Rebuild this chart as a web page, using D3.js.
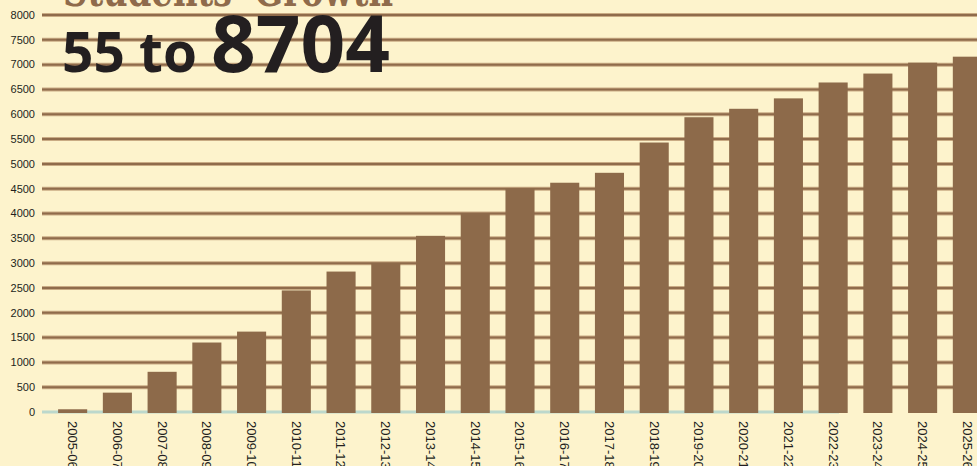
<!DOCTYPE html>
<html>
<head>
<meta charset="utf-8">
<script src="https://cdn.jsdelivr.net/npm/d3@7"></script>
<style>
  body { margin: 0; background: #fdf3cc; }
  svg { display: block; }
  .tick-label { font-family: "Liberation Sans", "DejaVu Sans", sans-serif; font-size: 11px; fill: #231f20; }
</style>
</head>
<body>
<svg width="977" height="466"></svg>
<script>
const svg = d3.select('svg');
const width = +svg.attr('width');
const height = +svg.attr('height');

const years = ['2005-06', '2006-07', '2007-08', '2008-09', '2009-10', '2010-11', '2011-12',
  '2012-13', '2013-14', '2014-15', '2015-16', '2016-17', '2017-18', '2018-19', '2019-20',
  '2020-21', '2021-22', '2022-23', '2023-24', '2024-25', '2025-26'];
const students = [55, 390, 810, 1400, 1620, 2450, 2830, 2990, 3550, 4000, 4500, 4620,
  4820, 5430, 5940, 6110, 6320, 6640, 6820, 7040, 7160];
const yTicks = d3.range(0, 8001, 500);

const title = "Students' Growth";
const fromTo = ['55 to', '8704'];

const left = 42;
const yScale = d3.scaleLinear()
  .domain([0, 8000])
  .range([412, 15]);

const xScale = d3.scaleBand()
  .domain(years)
  .range([left, 998])
  .paddingInner(0.35)
  .paddingOuter(0.36);

svg.append('rect')
  .attr('width', width)
  .attr('height', height)
  .attr('fill', '#fdf3cc');

// grid lines
const grid = svg.append('g');
grid.selectAll('line.halo')
  .data(yTicks.filter(d => d > 0))
  .join('line')
  .attr('class', 'halo')
  .attr('x1', left).attr('x2', width)
  .attr('y1', d => yScale(d)).attr('y2', d => yScale(d))
  .attr('stroke', '#c9ab84')
  .attr('stroke-width', 4);
grid.selectAll('line.core')
  .data(yTicks.filter(d => d > 0))
  .join('line')
  .attr('class', 'core')
  .attr('x1', left).attr('x2', width)
  .attr('y1', d => yScale(d)).attr('y2', d => yScale(d))
  .attr('stroke', '#8f6b4b')
  .attr('stroke-width', 2);

// baseline
svg.append('line')
  .attr('x1', left).attr('x2', 839)
  .attr('y1', yScale(0)).attr('y2', yScale(0))
  .attr('stroke', '#bcd8cc')
  .attr('stroke-width', 3);

// title texts (the top one is cut off by the edge, as in the original)
svg.append('text')
  .attr('x', 63).attr('y', 6)
  .attr('font-family', '"DejaVu Serif", serif')
  .attr('font-weight', 'bold')
  .attr('font-size', 44)
  .attr('textLength', 330)
  .attr('lengthAdjust', 'spacingAndGlyphs')
  .attr('fill', '#8f6b4b')
  .text(title);

svg.append('text')
  .attr('x', 62).attr('y', 72)
  .attr('font-family', '"Open Sans", "DejaVu Sans", sans-serif')
  .attr('font-weight', 'bold')
  .attr('font-size', 56)
  .attr('textLength', 135)
  .attr('lengthAdjust', 'spacingAndGlyphs')
  .attr('fill', '#231f20')
  .text(fromTo[0]);

svg.append('text')
  .attr('x', 211).attr('y', 72)
  .attr('font-family', '"Open Sans", "DejaVu Sans", sans-serif')
  .attr('font-weight', 'bold')
  .attr('font-size', 78)
  .attr('textLength', 179)
  .attr('lengthAdjust', 'spacingAndGlyphs')
  .attr('fill', '#231f20')
  .text(fromTo[1]);

// bars
svg.append('g').selectAll('rect')
  .data(students)
  .join('rect')
  .attr('x', (d, i) => xScale(years[i]))
  .attr('y', d => yScale(d))
  .attr('width', xScale.bandwidth())
  .attr('height', d => yScale(0) - yScale(d) + 1)
  .attr('fill', '#8d6a4a');

// y labels
svg.append('g').selectAll('text')
  .data(yTicks)
  .join('text')
  .attr('class', 'tick-label')
  .attr('x', 35)
  .attr('y', d => yScale(d))
  .attr('dy', '0.35em')
  .attr('text-anchor', 'end')
  .text(d => d);

// x labels
svg.append('g').selectAll('text')
  .data(years)
  .join('text')
  .attr('class', 'tick-label')
  .style('font-size', '13px')
  .attr('transform', d => `translate(${xScale(d) + xScale.bandwidth() / 2}, 421) rotate(90)`)
  .attr('dy', '0.35em')
  .attr('text-anchor', 'start')
  .text(d => d);
</script>
</body>
</html>
